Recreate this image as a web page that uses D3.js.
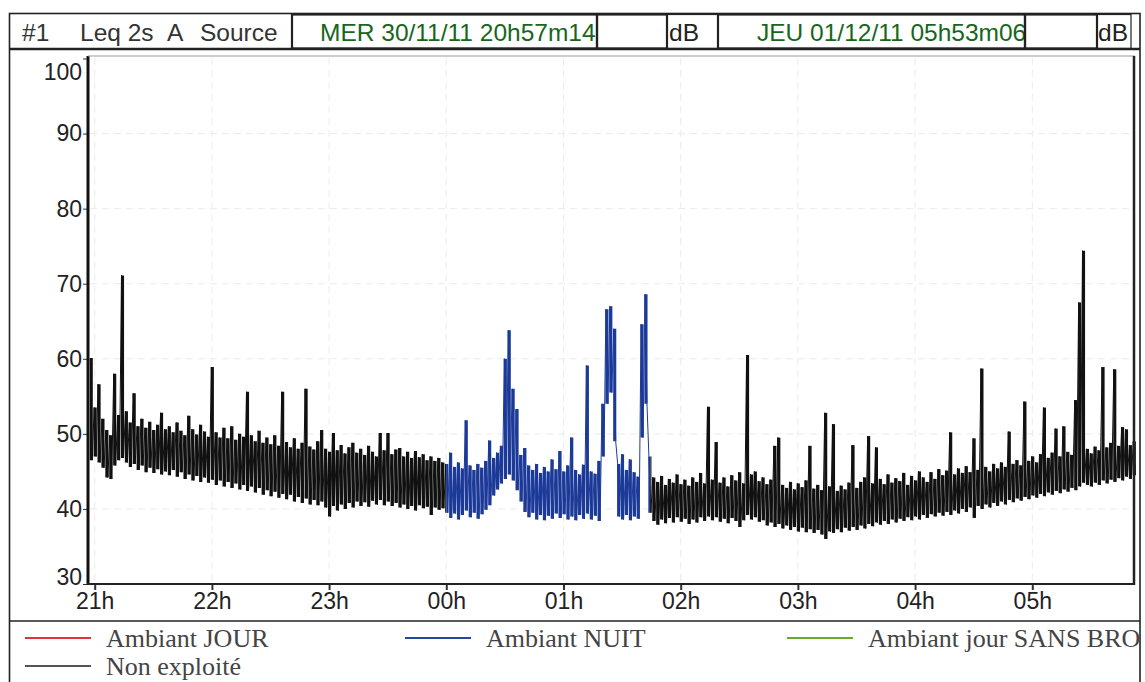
<!DOCTYPE html>
<html lang="fr">
<head>
  <meta charset="UTF-8">
  <script src="https://d3js.org/d3.v7.min.js"></script>
  <title>Leq 2s A</title>
  <style>
    body { margin: 0; background: #fff; }
    svg { display: block; }
  </style>
</head>
<body>
  <svg id="chart" width="1145" height="682"></svg>
  <script>
    // période de mesure
    const startTime = new Date(2011, 10, 30, 20, 57, 14);
    const endTime = new Date(2011, 11, 1, 5, 53, 6);
    const binMinutes = 2;

    // niveau max / min relevé par tranche de 2 minutes (dB)
    const hiValues = [
      60.1, 53.5, 56.6, 52.0, 50.5, 49.8, 58.0, 52.5, 71.1, 53.0, 51.5, 55.4, 51.0, 52.0, 50.8, 51.6, 50.5, 51.2, 52.8, 50.6,
      51.0, 50.2, 51.5, 50.4, 49.8, 52.4, 50.6, 49.9, 51.2, 50.3, 49.6, 58.9, 50.2, 49.5, 50.8, 49.4, 51.0, 49.2, 50.0, 49.6,
      55.6, 49.8, 49.0, 50.4, 48.8, 49.5, 48.6, 49.8, 48.4, 55.6, 48.9, 48.2, 49.4, 48.0, 48.8, 56.0, 48.3, 47.9, 49.0, 50.5,
      48.0, 47.6, 50.1, 47.8, 48.5, 47.4, 48.2, 48.8, 47.5, 48.0, 47.2, 48.4, 47.6, 47.0, 50.1, 47.8, 50.1, 47.3, 47.9, 48.1,
      47.0, 47.6, 46.8, 47.7, 46.9, 47.3, 46.5, 47.0, 46.4, 46.8, 46.2, 46.0, 47.5, 45.6, 46.2, 45.4, 51.8, 45.8, 45.2, 46.0,
      45.5, 46.4, 49.1, 46.8, 47.5, 48.4, 60.0, 63.8, 56.0, 53.3, 47.2, 48.1, 45.8, 45.2, 46.0, 44.8, 45.6, 45.0, 46.6, 45.3,
      47.7, 45.0, 45.8, 49.5, 45.2, 44.6, 45.9, 59.1, 45.0, 44.7, 46.4, 54.0, 66.6, 67.0, 64.0, 46.0, 47.3, 45.2, 46.6, 44.9,
      44.3, 64.6, 68.6, 47.0, 44.2, 43.6, 44.4, 43.2, 44.0, 43.5, 44.6, 43.3, 43.9, 43.1, 44.2, 43.6, 44.8, 43.4, 53.6, 43.9,
      48.9, 43.5, 44.2, 43.0, 44.5, 43.8, 44.9, 43.4, 60.5, 44.6, 45.0, 43.7, 44.2, 43.3, 43.9, 48.4, 49.5, 43.2, 42.8, 43.6,
      42.6, 43.4, 42.9, 43.8, 48.4, 42.7, 43.2, 42.5, 52.8, 43.0, 51.3, 42.4, 43.1, 42.6, 43.5, 48.5, 42.8, 43.6, 44.2, 49.7,
      43.4, 48.2, 44.0, 43.3, 44.6, 43.5, 44.1, 43.7, 44.8, 43.2, 44.4, 43.8, 45.0, 44.2, 43.6, 44.9, 44.0, 45.3, 44.5, 45.1,
      50.2, 44.6, 45.4, 44.8, 45.7, 44.9, 49.4, 45.2, 58.7, 45.6, 45.0, 46.0, 45.4, 46.2, 45.6, 50.3, 46.0, 46.5, 45.8, 54.3,
      46.4, 47.0, 46.2, 47.3, 53.5, 46.8, 47.5, 50.7, 47.0, 51.0, 47.6, 47.2, 54.5, 67.5, 74.4, 48.0, 47.4, 48.3, 47.8, 58.9,
      48.2, 48.8, 58.6, 48.4, 50.9, 50.6, 48.5, 49.0
    ];
    const loValues = [
      46.5, 47.0, 46.2, 45.5, 44.2, 44.0, 45.8, 46.5, 46.8, 46.2, 45.6, 46.0, 45.2, 45.8, 44.9, 45.5, 44.8, 45.3, 44.6, 45.0,
      44.5, 45.2, 44.3, 44.9, 44.0, 44.6, 43.8, 44.4, 43.6, 44.2, 43.5, 43.9, 43.2, 43.8, 43.0, 43.6, 42.8, 43.4, 42.6, 43.2,
      42.4, 43.0, 42.2, 42.8, 41.9, 42.5, 41.7, 42.3, 41.5, 42.0, 41.3, 41.9, 41.0, 41.6, 40.8, 41.4, 40.6, 41.2, 40.5, 41.0,
      40.2, 39.0, 40.4, 39.8, 40.6, 40.0, 40.8, 40.2, 41.0, 40.4, 40.9, 40.3, 41.1, 40.6, 41.2, 40.5, 41.0, 40.4, 40.8, 40.2,
      40.6, 40.0, 40.4, 39.8, 40.5, 40.1, 40.3, 39.2, 40.2, 39.9, 40.1, 39.5, 38.8, 39.4, 38.6, 39.2, 39.8, 38.9, 39.5, 38.7,
      39.3, 39.9, 40.5, 41.8, 42.6, 43.4, 44.0, 44.6, 43.8, 42.5, 41.0, 39.6, 38.9, 39.5, 38.6, 39.2, 38.5, 39.1, 38.7, 39.4,
      38.8, 39.3, 38.6, 39.0, 38.5, 39.2, 38.7, 39.4, 38.6, 39.1, 38.4, 47.0, 54.0, 55.5, 49.0, 39.0, 38.6, 39.2, 38.5, 39.0,
      38.7, 49.5, 54.0, 39.5, 38.4, 37.9, 38.6, 38.1, 38.8, 38.2, 38.9, 38.3, 38.7, 38.0, 38.6, 38.2, 38.9, 38.4, 39.0, 38.5,
      38.9, 38.3, 38.7, 38.1, 38.8, 38.4, 37.6, 38.5, 39.2, 38.6, 38.9, 38.3, 38.5, 37.8, 38.2, 37.6, 38.0, 37.4, 37.8, 37.2,
      37.6, 37.0, 37.5, 36.9, 37.3, 36.8, 37.2, 36.6, 36.0, 37.0, 36.8, 37.3, 36.9, 37.5, 37.1, 37.6, 37.2, 37.8, 37.4, 38.0,
      37.7, 38.2, 37.9, 38.4, 38.0, 38.6, 38.2, 38.7, 38.4, 38.9, 38.5, 39.0, 38.6, 39.2, 38.8, 39.3, 39.0, 39.5, 39.1, 39.6,
      39.2, 39.8, 39.4, 40.0, 39.6, 40.2, 38.8, 40.4, 40.0, 40.6, 40.2, 40.8, 40.4, 41.0, 40.6, 41.2, 40.9, 41.4, 41.1, 41.6,
      41.3, 41.8, 41.5, 42.0, 41.7, 42.2, 41.9, 42.4, 42.1, 42.6, 42.3, 42.8, 42.5, 43.0, 43.5, 43.2, 43.0, 43.5, 43.2, 43.8,
      43.4, 43.9, 43.6, 44.1, 43.8, 44.3, 44.0, 44.5
    ];

    // périodes codées
    const periods = [
      { from: startTime, to: new Date(2011, 11, 1, 0, 0, 0), name: "Non exploité" },
      { from: new Date(2011, 11, 1, 0, 0, 0), to: new Date(2011, 11, 1, 1, 44, 30), name: "Ambiant NUIT" },
      { from: new Date(2011, 11, 1, 1, 44, 30), to: endTime, name: "Non exploité" }
    ];

    const legendNames = ["Ambiant JOUR", "Ambiant NUIT", "Ambiant jour SANS BRO", "Non exploité"];
    const legendColors = ["#e8303a", "#2346a0", "#6aaa2a", "#555555"];
    const traceColors = { "Ambiant NUIT": "#1c3a98", "Non exploité": "#111111" };

    const yTicks = [30, 40, 50, 60, 70, 80, 90, 100];
    const headerLabels = ["#1", "Leq 2s", "A", "Source"];
    const headerDates = ["MER 30/11/11 20h57m14", "JEU 01/12/11 05h53m06"];

    const svg = d3.select("#chart");
    svg.append("rect").attr("width", 1145).attr("height", 682).attr("fill", "#fff");

    const x = d3.scaleTime().domain([startTime, endTime]).range([89.3, 1136]);
    const y = d3.scaleLinear().domain([30, 100]).range([584, 58.5]);

    // grille
    const grid = svg.append("g").attr("stroke", "#ebebeb").attr("stroke-dasharray", "7,5");
    grid.selectAll(".gy").data(yTicks.slice(1, -1)).enter().append("line")
      .attr("x1", 90).attr("x2", 1132).attr("y1", d => y(d)).attr("y2", d => y(d));
    grid.selectAll(".gx").data(x.ticks(d3.timeHour.every(1))).enter().append("line")
      .attr("y1", 58).attr("y2", 582).attr("x1", d => x(d)).attr("x2", d => x(d));

    // tranches : max puis min
    const bins = hiValues.map((h, i) => ({
      t: new Date(+startTime + (i + 0.5) * binMinutes * 60000), hi: h, lo: loValues[i]
    }));
    const points = [];
    hiValues.forEach((h, i) => {
      const t0 = +startTime + i * binMinutes * 60000;
      points.push({ t: new Date(t0 + 30000), v: h });
      points.push({ t: new Date(t0 + 90000), v: loValues[i] });
    });

    const line = d3.line().x(d => x(d.t)).y(d => y(d.v));

    periods.forEach((p, i) => {
      svg.append("clipPath").attr("id", "pc" + i)
        .append("rect").attr("x", x(p.from)).attr("y", 50)
        .attr("width", x(p.to) - x(p.from)).attr("height", 534);
      const g = svg.append("g").attr("clip-path", "url(#pc" + i + ")");
      g.selectAll("line").data(bins).enter().append("line")
        .attr("x1", d => x(d.t)).attr("x2", d => x(d.t))
        .attr("y1", d => y(d.lo)).attr("y2", d => y(d.hi))
        .attr("stroke", traceColors[p.name]).attr("stroke-width", 3.1);
      g.append("path").datum(points)
        .attr("fill", "none")
        .attr("stroke", traceColors[p.name])
        .attr("stroke-width", 1)
        .attr("d", line);
    });

    // axes
    const axisFont = "Liberation Sans, Arial, sans-serif";
    const yAxis = d3.axisLeft(y).tickValues(yTicks).tickSize(5).tickPadding(1);
    const yG = svg.append("g").attr("transform", "translate(88,0)").call(yAxis);
    yG.select(".domain").remove();
    yG.selectAll("text")
      .attr("font-family", axisFont).attr("font-size", 23).attr("fill", "#222")
      .attr("dy", d => d === 100 ? "0.9em" : d === 30 ? "0.0em" : "0.32em");
    yG.selectAll("line").attr("stroke", "#333");

    const xAxis = d3.axisBottom(x).ticks(d3.timeHour.every(1)).tickFormat(d3.timeFormat("%Hh")).tickSize(6).tickPadding(3);
    const xG = svg.append("g").attr("transform", "translate(0,584)").call(xAxis);
    xG.select(".domain").remove();
    xG.selectAll("text")
      .attr("font-family", axisFont).attr("font-size", 23).attr("fill", "#222");
    xG.selectAll("line").attr("stroke", "#333").attr("stroke-width", 2);

    // cadre du graphe
    svg.append("line").attr("x1", 88).attr("x2", 88).attr("y1", 56).attr("y2", 585).attr("stroke", "#111").attr("stroke-width", 3);
    svg.append("line").attr("x1", 87).attr("x2", 1135).attr("y1", 584).attr("y2", 584).attr("stroke", "#222").attr("stroke-width", 2);
    svg.append("line").attr("x1", 88).attr("x2", 1135).attr("y1", 56).attr("y2", 56).attr("stroke", "#999").attr("stroke-width", 1);
    svg.append("line").attr("x1", 1134).attr("x2", 1134).attr("y1", 56).attr("y2", 585).attr("stroke", "#222").attr("stroke-width", 2.5);
    svg.append("rect").attr("x", 9.5).attr("y", 13.5).attr("width", 1130.5).attr("height", 680)
      .attr("fill", "none").attr("stroke", "#222").attr("stroke-width", 1.6);
    svg.append("line").attr("x1", 9).attr("x2", 1140).attr("y1", 621).attr("y2", 621).attr("stroke", "#222").attr("stroke-width", 1.6);

    // en-tête
    const head = svg.append("g").attr("font-family", axisFont).attr("font-size", 24.5);
    head.append("line").attr("x1", 9).attr("x2", 1140).attr("y1", 49).attr("y2", 49).attr("stroke", "#222").attr("stroke-width", 2.5);
    const headBoxes = [
      { x0: 292, x1: 597, text: headerDates[0], tx: 320, color: "#17661c", bold: true },
      { x0: 597, x1: 667, text: "", tx: 0, color: "#222", bold: true },
      { x0: 667, x1: 718, text: "dB", tx: 669, color: "#222", bold: false },
      { x0: 718, x1: 1025, text: headerDates[1], tx: 757, color: "#17661c", bold: true },
      { x0: 1025, x1: 1097, text: "", tx: 0, color: "#222", bold: true },
      { x0: 1097, x1: 1131, text: "dB", tx: 1098, color: "#222", bold: false }
    ];
    headBoxes.forEach((b, i) => {
      head.append("clipPath").attr("id", "hc" + i)
        .append("rect").attr("x", b.x0).attr("y", 14).attr("width", b.x1 - b.x0).attr("height", 34);
      head.append("rect").attr("x", b.x0).attr("y", 14.5).attr("width", b.x1 - b.x0).attr("height", 34)
        .attr("fill", "none").attr("stroke", "#222").attr("stroke-width", b.bold ? 2.2 : 1.2);
      head.append("text").attr("x", b.tx).attr("y", 41).attr("fill", b.color)
        .attr("clip-path", "url(#hc" + i + ")").text(b.text);
    });
    const headX = [22, 80, 167, 200];
    head.selectAll(".hl").data(headerLabels).enter().append("text")
      .attr("x", (d, i) => headX[i]).attr("y", 41).attr("fill", "#333").text(d => d);

    // légende
    const legX = [25, 405, 787, 25];
    const legRow = [0, 0, 0, 1];
    svg.append("clipPath").attr("id", "legclip")
      .append("rect").attr("x", 10).attr("y", 622).attr("width", 1129).attr("height", 60);
    const leg = svg.append("g").attr("clip-path", "url(#legclip)");
    legendNames.forEach((n, i) => {
      const ly = 638 + legRow[i] * 28;
      leg.append("line").attr("x1", legX[i]).attr("x2", legX[i] + 66).attr("y1", ly).attr("y2", ly)
        .attr("stroke", legendColors[i]).attr("stroke-width", 2);
      leg.append("text").attr("x", legX[i] + 81).attr("y", ly + 9)
        .attr("font-family", "Liberation Serif, Times New Roman, serif").attr("font-size", 26)
        .attr("fill", "#444").text(n);
    });
  </script>
</body>
</html>
